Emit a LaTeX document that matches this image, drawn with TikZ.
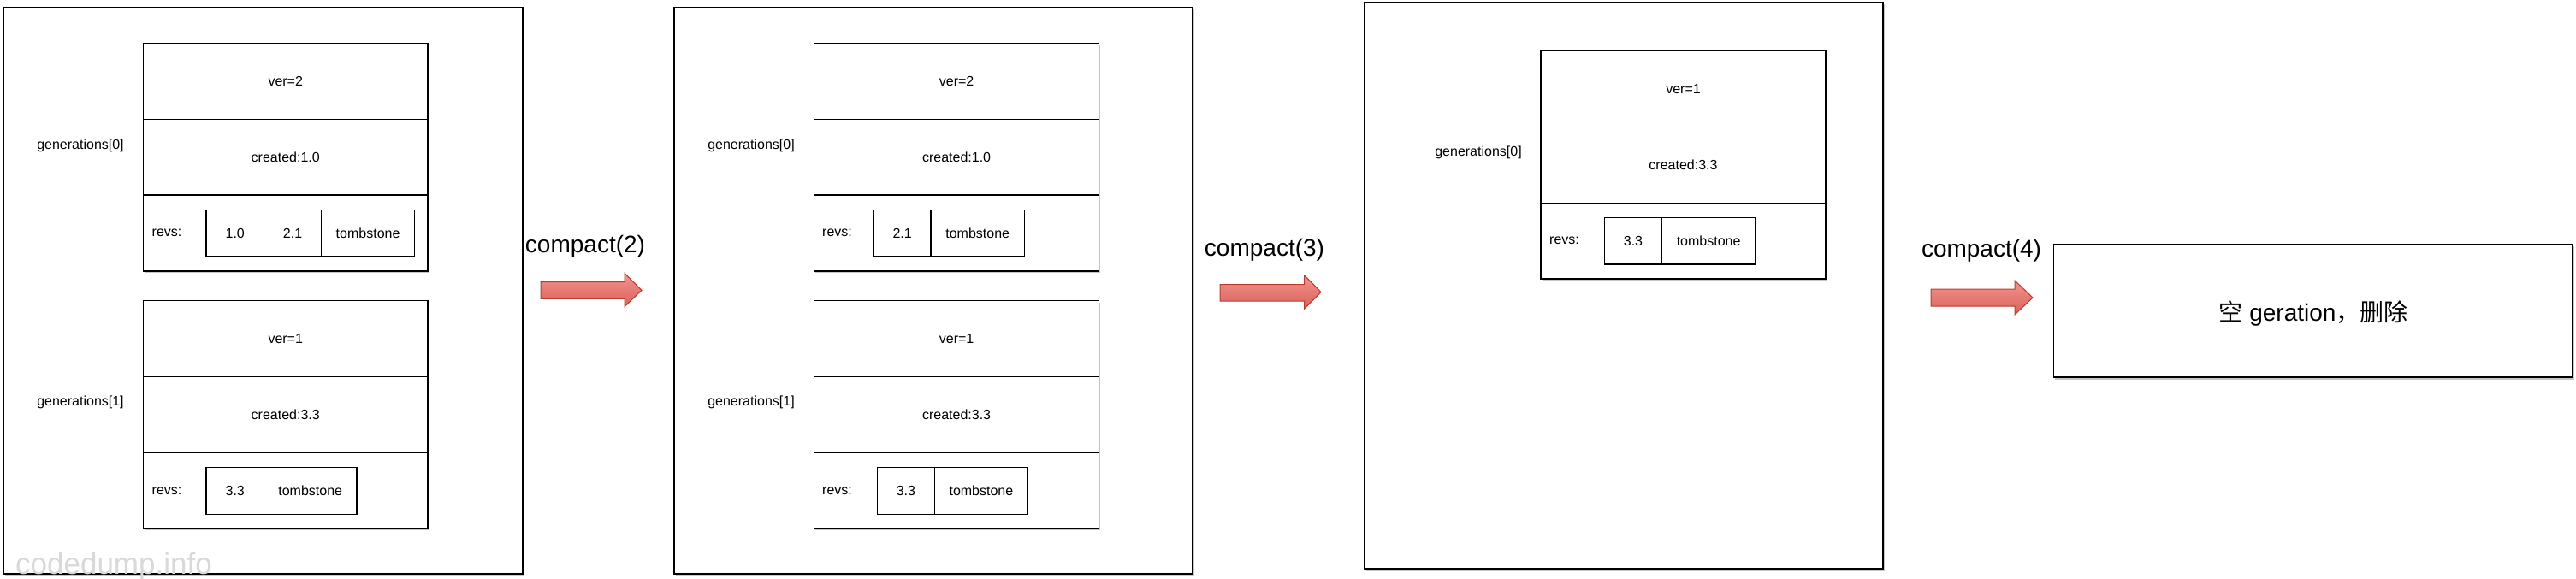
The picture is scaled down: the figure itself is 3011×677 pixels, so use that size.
\documentclass[tikz,border=0pt]{standalone}
\usepackage{fontspec}
\setmainfont{Liberation Sans}
\newfontfamily\cjkfont{Noto Sans CJK SC}
\usetikzlibrary{shadows}
\definecolor{arrowtop}{HTML}{F4938E}
\definecolor{arrowbot}{HTML}{D8625B}
\definecolor{arrowedge}{HTML}{C0392B}
\begin{document}
\begin{tikzpicture}[x=1pt,y=-1pt,
  mylw/.style={line width=1.3pt},
  sfont/.style={font=\fontsize{16}{19}\selectfont},
  bigfont/.style={font=\fontsize{28}{33}\selectfont},
  outerbox/.style={draw, mylw, fill=white, inner sep=0pt,
    drop shadow={shadow xshift=1.5pt, shadow yshift=-2.5pt, opacity=0.45, fill=gray}},
  rowbox/.style={draw, mylw, inner sep=0pt, minimum height=88.8pt, sfont},
  cellbox/.style={draw, mylw, inner sep=0pt, sfont},
  lbl/.style={sfont, inner sep=0pt},
  biglbl/.style={bigfont, inner sep=0pt},
  blockarrow/.style={draw=arrowedge, line width=1pt, top color=arrowtop, bottom color=arrowbot},
]
\useasboundingbox (0,0) rectangle (3011,677);

% ---------------- Box 1 ----------------
\node[outerbox, minimum width=607pt, minimum height=662.4pt] (box1) at (307.5,339.8) {};
% gen0
\node[outerbox, minimum width=332.5pt, minimum height=266.4pt] (b1g0) at (333.75,183.7) {};
\node[rowbox, minimum width=332.5pt] (b1g0v) at (333.75,94.9) {ver=2};
\node[rowbox, minimum width=332.5pt] (b1g0c) at (333.75,183.7) {created:1.0};
\node[rowbox, minimum width=332.5pt] (b1g0r) at (333.75,272.5) {};
\node[lbl, anchor=west] (b1g0rl) at (177.5,272.75) {revs:};
\node[cellbox, minimum width=67.5pt, minimum height=54.6pt] (b1g0a) at (274.75,272.75) {1.0};
\node[cellbox, minimum width=67.2pt, minimum height=54.6pt] (b1g0b) at (342.1,272.75) {2.1};
\node[cellbox, minimum width=108.8pt, minimum height=54.6pt] (b1g0t) at (430.1,272.75) {tombstone};
\node[lbl] (b1g0l) at (94,170) {generations[0]};
% gen1
\node[outerbox, minimum width=332.5pt, minimum height=266.4pt] (b1g1) at (333.75,484.7) {};
\node[rowbox, minimum width=332.5pt] (b1g1v) at (333.75,395.9) {ver=1};
\node[rowbox, minimum width=332.5pt] (b1g1c) at (333.75,484.7) {created:3.3};
\node[rowbox, minimum width=332.5pt] (b1g1r) at (333.75,573.5) {};
\node[lbl, anchor=west] (b1g1rl) at (177.5,574) {revs:};
\node[cellbox, minimum width=67.5pt, minimum height=54.9pt] (b1g1a) at (274.75,574.05) {3.3};
\node[cellbox, minimum width=108.5pt, minimum height=54.9pt] (b1g1t) at (362.75,574.05) {tombstone};
\node[lbl] (b1g1l) at (94,470.6) {generations[1]};

% arrow 1
\node[biglbl] (c2) at (684,288) {compact(2)};
\path[blockarrow] (632,329.5) -- (730,329.5) -- (730,319.3) -- (750,339.4) -- (730,358.7) -- (730,349.3) -- (632,349.3) -- cycle;

% ---------------- Box 2 ----------------
\node[outerbox, minimum width=606pt, minimum height=662.4pt] (box2) at (1091,339.8) {};
% gen0
\node[outerbox, minimum width=333.2pt, minimum height=266.4pt] (b2g0) at (1118.1,183.7) {};
\node[rowbox, minimum width=333.2pt] (b2g0v) at (1118.1,94.9) {ver=2};
\node[rowbox, minimum width=333.2pt] (b2g0c) at (1118.1,183.7) {created:1.0};
\node[rowbox, minimum width=333.2pt] (b2g0r) at (1118.1,272.5) {};
\node[lbl, anchor=west] (b2g0rl) at (961,272.75) {revs:};
\node[cellbox, minimum width=66.6pt, minimum height=54.6pt] (b2g0b) at (1054.7,272.75) {2.1};
\node[cellbox, minimum width=109.4pt, minimum height=54.6pt] (b2g0t) at (1142.7,272.75) {tombstone};
\node[lbl] (b2g0l) at (878,170) {generations[0]};
% gen1
\node[outerbox, minimum width=333.2pt, minimum height=266.4pt] (b2g1) at (1118.1,484.7) {};
\node[rowbox, minimum width=333.2pt] (b2g1v) at (1118.1,395.9) {ver=1};
\node[rowbox, minimum width=333.2pt] (b2g1c) at (1118.1,484.7) {created:3.3};
\node[rowbox, minimum width=333.2pt] (b2g1r) at (1118.1,573.5) {};
\node[lbl, anchor=west] (b2g1rl) at (961,574) {revs:};
\node[cellbox, minimum width=66.8pt, minimum height=54.9pt] (b2g1a) at (1058.9,574.05) {3.3};
\node[cellbox, minimum width=109.2pt, minimum height=54.9pt] (b2g1t) at (1146.9,574.05) {tombstone};
\node[lbl] (b2g1l) at (878,470.6) {generations[1]};

% arrow 2
\node[biglbl] (c3) at (1478,292) {compact(3)};
\path[blockarrow] (1426,332.5) -- (1524.7,332.5) -- (1524.7,322) -- (1544,341.5) -- (1524.7,361) -- (1524.7,352) -- (1426,352) -- cycle;

% ---------------- Box 3 ----------------
\node[outerbox, minimum width=606pt, minimum height=662.4pt] (box3) at (1898,333.8) {};
\node[outerbox, minimum width=333pt, minimum height=266.4pt] (b3g0) at (1967.5,192.8) {};
\node[rowbox, minimum width=333pt] (b3g0v) at (1967.5,104) {ver=1};
\node[rowbox, minimum width=333pt] (b3g0c) at (1967.5,192.8) {created:3.3};
\node[rowbox, minimum width=333pt] (b3g0r) at (1967.5,281.6) {};
\node[lbl, anchor=west] (b3g0rl) at (1811,281.65) {revs:};
\node[cellbox, minimum width=67.2pt, minimum height=54.7pt] (b3g0a) at (1909,281.65) {3.3};
\node[cellbox, minimum width=109pt, minimum height=54.7pt] (b3g0t) at (1997.1,281.65) {tombstone};
\node[lbl] (b3g0l) at (1728,178.3) {generations[0]};

% arrow 3
\node[biglbl] (c4) at (2316,293) {compact(4)};
\path[blockarrow] (2257,338) -- (2355,338) -- (2355,328) -- (2376,348) -- (2355,368) -- (2355,358) -- (2257,358) -- cycle;

% ---------------- Final box ----------------
\node[outerbox, minimum width=606.3pt, minimum height=155.3pt] (fin) at (2703.85,363.35) {};
\node[biglbl] (fintext) at (2704,366.7) {{\cjkfont 空} geration{\cjkfont ，删除}};

% watermark
\node[anchor=base west, inner sep=0pt, text=gray!30, font=\fontsize{35}{40}\selectfont] (wm) at (18,671) {codedump.info};
\end{tikzpicture}
\end{document}
